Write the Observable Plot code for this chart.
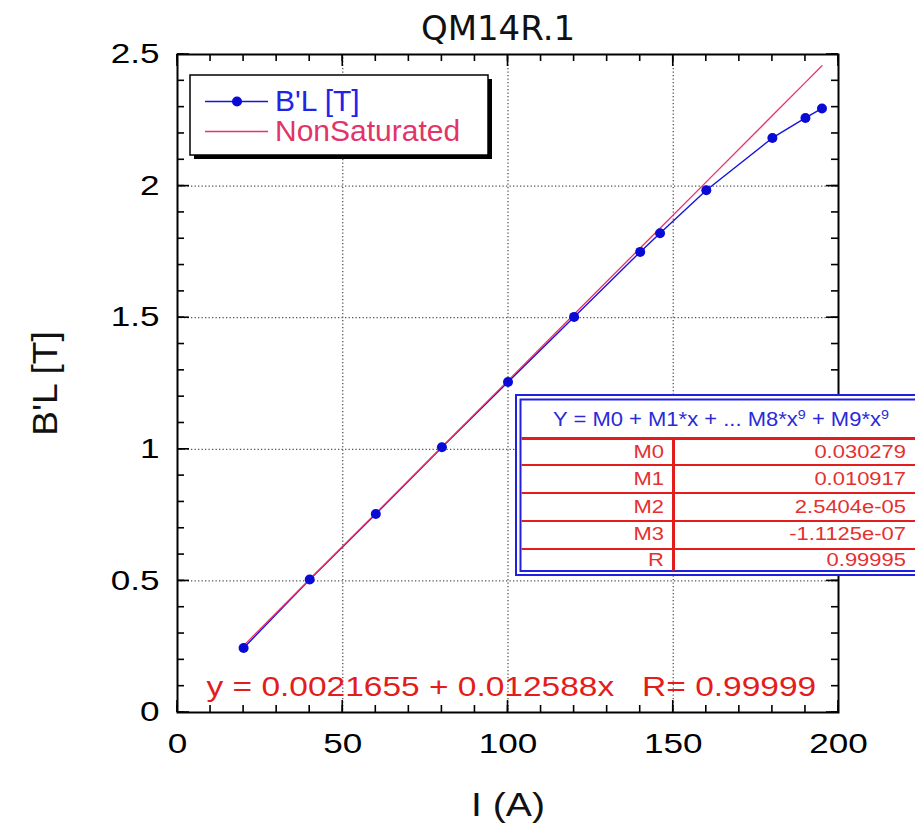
<!DOCTYPE html>
<html><head><meta charset="utf-8">
<script src="https://cdn.jsdelivr.net/npm/d3@7"></script>
<script src="https://cdn.jsdelivr.net/npm/@observablehq/plot@0.6"></script>
<style>body{margin:0;background:#fff} svg{display:block}</style>
</head><body><div id="chart"></div>
<script>
// ---- data ----
const chartTitle = "QM14R.1";
const xLabel = "I (A)";
const yLabel = "B'L [T]";
const current = [20, 40, 60, 80, 100, 120, 140, 146, 160, 180, 190, 195];
const blValues = [0.245, 0.505, 0.754, 1.008, 1.256, 1.503, 1.750, 1.821, 1.984, 2.183, 2.259, 2.295];
const nonSatValues = [0.254, 0.506, 0.757, 1.009, 1.261, 1.513, 1.765, 1.840, 2.016, 2.268, 2.394, 2.457];
const seriesNames = ["B'L [T]", "NonSaturated"];
const xTicks = [0, 50, 100, 150, 200];
const yTicks = [0, 0.5, 1, 1.5, 2, 2.5];
const xMinorTicks = [0,10,20,30,40,50,60,70,80,90,100,110,120,130,140,150,160,170,180,190,200];
const yMinorTicks = [0,0.1,0.2,0.3,0.4,0.5,0.6,0.7,0.8,0.9,1,1.1,1.2,1.3,1.4,1.5,1.6,1.7,1.8,1.9,2,2.1,2.2,2.3,2.4,2.5];
const linearFitLabel = "y = 0.0021655 + 0.012588x\u00a0\u00a0\u00a0R= 0.99999";
const fitTitleParts = ["Y = M0 + M1*x + ... M8*x", "9", " + M9*x", "9"];
const fitNames = ["M0", "M1", "M2", "M3", "R"];
const fitValues = ["0.030279", "0.010917", "2.5404e-05", "-1.1125e-07", "0.99995"];

const data = current.map((x, i) => ({x, bl: blValues[i], ns: nonSatValues[i]}));

const BLUE = "#1414e0", PINK = "#e6336a", RED = "#e31c1c";
const FONT = "'Liberation Sans', Arial, Helvetica, sans-serif";
const W = 915, H = 828, mL = 177, mR = 77, mT = 54, mB = 116;

const plot = Plot.plot({
  width: W, height: H,
  marginLeft: mL, marginRight: mR, marginTop: mT, marginBottom: mB,
  x: {domain: [0, 200], label: null},
  y: {domain: [0, 2.5], label: null},
  style: {fontFamily: FONT, background: "#fff", overflow: "visible"},
  marks: [
    Plot.gridX(xTicks.slice(1, -1), {stroke: "#555", strokeOpacity: 1, strokeWidth: 1.3, strokeDasharray: "1.3,2.2"}),
    Plot.gridY(yTicks.slice(1, -1), {stroke: "#555", strokeOpacity: 1, strokeWidth: 1.3, strokeDasharray: "1.3,2.2"}),
    // tick labels
    Plot.axisX(xTicks, {anchor: "bottom", tickSize: 0, tickPadding: 21, fontSize: 27}),
    Plot.axisY(yTicks, {anchor: "left", tickSize: 0, tickPadding: 18, fontSize: 27, tickFormat: d => String(d)}),
    Plot.line(data, {x: "x", y: "bl", stroke: BLUE, strokeWidth: 1.4}),
    Plot.line(data, {x: "x", y: "ns", stroke: PINK, strokeWidth: 1.3}),
    Plot.dot(data, {x: "x", y: "bl", r: 5, fill: "#0a0ad6", stroke: "none"}),
    Plot.frame({stroke: "black", strokeWidth: 2}),
    Plot.text([chartTitle], {frameAnchor: "top", dx: -10, dy: -15, lineAnchor: "bottom", fontSize: 34, fontFamily: "'DejaVu Sans', sans-serif", fill: "#111"}),
    Plot.text([linearFitLabel], {frameAnchor: "bottom-left", textAnchor: "start", lineAnchor: "bottom", dx: 29, dy: -17, fontSize: 27, fill: RED}),
    Plot.text([xLabel], {frameAnchor: "bottom", textAnchor: "middle", lineAnchor: "bottom", dy: 103, fontSize: 34, fill: "#111"}),
    Plot.text([yLabel], {frameAnchor: "left", textAnchor: "middle", dx: -132, rotate: -90, lineAnchor: "middle", fontSize: 35, fill: "#111"})
  ]
});

document.getElementById("chart").appendChild(plot);
const svg = d3.select(plot);

// ---- inward ticks on all four sides, positioned with the plot's own scales ----
const sx = plot.scale("x"), sy = plot.scale("y");
const x0 = mL, x1 = W - mR, y0 = H - mB, y1 = mT;
const tg = svg.append("g").attr("stroke", "#000").attr("stroke-width", 1.6);
function addTicksX(ticks, len) {
  ticks.forEach(t => {
    const px = sx.apply(t);
    tg.append("line").attr("x1", px).attr("x2", px).attr("y1", y0).attr("y2", y0 - len);
    tg.append("line").attr("x1", px).attr("x2", px).attr("y1", y1).attr("y2", y1 + len);
  });
}
function addTicksY(ticks, len) {
  ticks.forEach(t => {
    const py = sy.apply(t);
    tg.append("line").attr("x1", x0).attr("x2", x0 + len).attr("y1", py).attr("y2", py);
    tg.append("line").attr("x1", x1).attr("x2", x1 - len).attr("y1", py).attr("y2", py);
  });
}
addTicksX(xMinorTicks, 7);
addTicksX(xTicks, 12);
addTicksY(yMinorTicks, 7);
addTicksY(yTicks, 12);

// ---- legend box ----
const lg = svg.append("g").attr("font-family", FONT).attr("text-anchor", "start");
lg.append("rect").attr("x", 194).attr("y", 79).attr("width", 298).attr("height", 80).attr("fill", "#000");
lg.append("rect").attr("x", 190).attr("y", 75).attr("width", 298).attr("height", 80).attr("fill", "#fff").attr("stroke", "#000").attr("stroke-width", 1.5);
lg.append("line").attr("x1", 205).attr("x2", 268).attr("y1", 101.5).attr("y2", 101.5).attr("stroke", BLUE).attr("stroke-width", 1.5);
lg.append("circle").attr("cx", 237).attr("cy", 101.5).attr("r", 5).attr("fill", "#0a0ad6");
lg.append("line").attr("x1", 205).attr("x2", 268).attr("y1", 131.5).attr("y2", 131.5).attr("stroke", PINK).attr("stroke-width", 1.5);
lg.append("text").attr("x", 275).attr("y", 111).attr("font-size", 30).attr("fill", "#2323e8").text(seriesNames[0]);
lg.append("text").attr("x", 275).attr("y", 140.5).attr("font-size", 30).attr("fill", "#e23468").text(seriesNames[1]);

// ---- fit table ----
const tb = svg.append("g").attr("font-family", FONT);
tb.append("rect").attr("x", 516).attr("y", 395).attr("width", 420).attr("height", 180).attr("fill", "#fff").attr("stroke", "#2020e0").attr("stroke-width", 2);
tb.append("rect").attr("x", 520.5).attr("y", 399.5).attr("width", 420).attr("height", 171.5).attr("fill", "none").attr("stroke", "#2020e0").attr("stroke-width", 2);
const tt = tb.append("text").attr("x", 721).attr("y", 426).attr("text-anchor", "middle").attr("font-size", 20).attr("fill", "#2a2ad8").attr("class", "stretch-title");
tt.append("tspan").text(fitTitleParts[0]);
tt.append("tspan").attr("dy", -7).attr("font-size", 13).text(fitTitleParts[1]);
tt.append("tspan").attr("dy", 7).text(fitTitleParts[2]);
tt.append("tspan").attr("dy", -7).attr("font-size", 13).text(fitTitleParts[3]);
tb.append("line").attr("x1", 521.5).attr("x2", 915).attr("y1", 438.5).attr("y2", 438.5).attr("stroke", RED).attr("stroke-width", 3);
const seps = [465, 493, 521, 549];
seps.forEach(y => tb.append("line").attr("x1", 521.5).attr("x2", 915).attr("y1", y).attr("y2", y).attr("stroke", RED).attr("stroke-width", 2));
tb.append("line").attr("x1", 673.5).attr("x2", 673.5).attr("y1", 438).attr("y2", 570.5).attr("stroke", RED).attr("stroke-width", 3);
const baselines = [457.5, 485, 512.5, 540, 566];
fitNames.forEach((n, i) => {
  tb.append("text").attr("x", 664).attr("y", baselines[i]).attr("text-anchor", "end").attr("font-size", 18).attr("fill", "#e53030").attr("class", "stretch").text(n);
  tb.append("text").attr("x", 906).attr("y", baselines[i]).attr("text-anchor", "end").attr("font-size", 18).attr("fill", "#e53030").attr("class", "stretch").text(fitValues[i]);
});

// horizontally widen some texts, as in the reference
function stretch(sel, f) {
  sel.each(function () {
    const L = this.getComputedTextLength();
    if (!(L > 0)) return;
    this.setAttribute("textLength", L * f);
    this.setAttribute("lengthAdjust", "spacingAndGlyphs");
  });
}
const byText = t => svg.selectAll("text").filter(function () { return this.textContent === t; });
const rotated = function () { const t = this.getAttribute("transform"); return t && t.includes("rotate"); };
stretch(svg.selectAll('g[aria-label="x-axis tick label"] text, g[aria-label="y-axis tick label"] text'), 1.3);
stretch(byText(linearFitLabel), 1.24);
stretch(byText(yLabel).filter(rotated), 1.06);
stretch(byText(xLabel), 1.15);
stretch(svg.selectAll('text.stretch'), 1.22);
stretch(svg.selectAll('text.stretch-title'), 1.1);
</script>
</body></html>
